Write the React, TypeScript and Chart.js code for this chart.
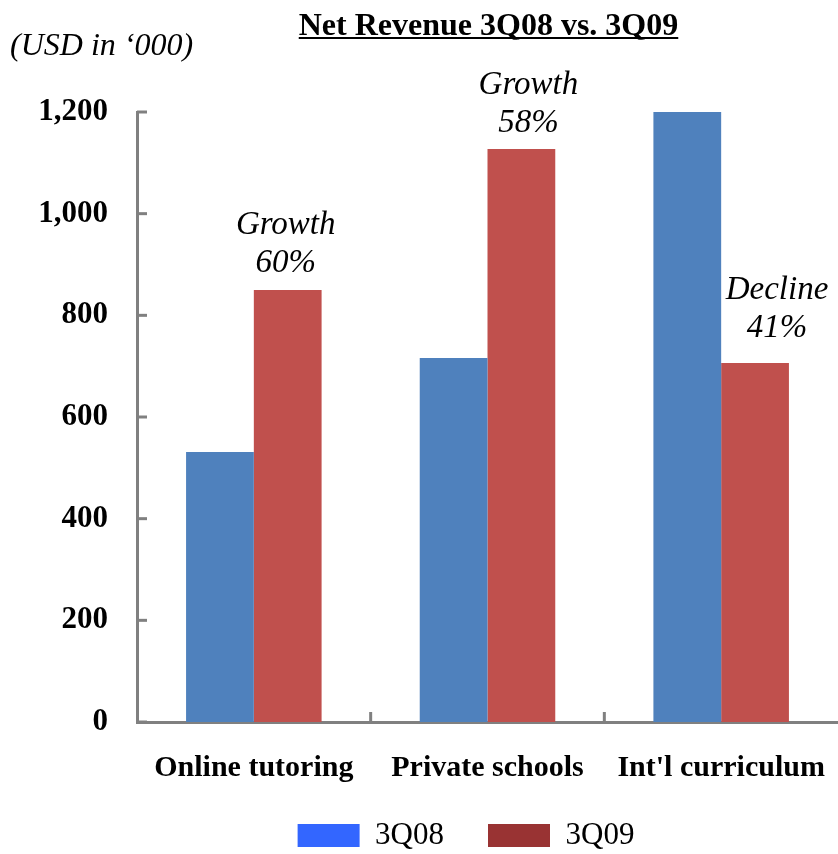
import React, { useEffect, useRef } from "react";
import { Chart, registerables } from "chart.js";

Chart.register(...registerables);

// ---- data ----
const categories = ["Online tutoring", "Private schools", "Int'l curriculum"];
const seriesLabels = ["3Q08", "3Q09"];
const values3Q08 = [531, 716, 1200];
const values3Q09 = [850, 1127, 706];
const yTickValues = [0, 200, 400, 600, 800, 1000, 1200];
const annotationWords = ["Growth", "Growth", "Decline"];
const annotationPercents = ["60%", "58%", "41%"];
const chartTitle = "Net Revenue 3Q08 vs. 3Q09";
const unitNote = "(USD in \u2018000)";

// ---- styles ----
const FONT = '"Liberation Serif", "Times New Roman", Times, serif';
const barColors = ["#4F81BD", "#C0504D"];
const legendColors = ["#3366FF", "#993333"];
const axisColor = "#808080";
const annotationOffsets = [
  { dx: -2, dy: -27 },
  { dx: 7, dy: -26 },
  { dx: 22, dy: -35 },
];
const annotationLineGap = 38;
const legendShift = { dx: 47, dy: -12 };

const decorations = {
  id: "decorations",
  afterLayout(chart: any) {
    const lg = chart.legend;
    if (lg) {
      lg.left += legendShift.dx;
      lg.right += legendShift.dx;
      lg.top += legendShift.dy;
      lg.bottom += legendShift.dy;
    }
  },
  afterDatasetsDraw(chart: any) {
    const ctx = chart.ctx;
    const meta = chart.getDatasetMeta(1);
    ctx.save();
    ctx.fillStyle = "#000";
    ctx.font = `italic 33px ${FONT}`;
    ctx.textAlign = "center";
    ctx.textBaseline = "middle";
    meta.data.forEach((el: any, i: number) => {
      const off = annotationOffsets[i];
      const x = el.x + off.dx;
      const y = el.y + off.dy;
      ctx.fillText(annotationWords[i], x, y - annotationLineGap);
      ctx.fillText(annotationPercents[i], x, y);
    });
    ctx.restore();
  },
  afterDraw(chart: any) {
    const ctx = chart.ctx;
    const area = chart.chartArea;
    const xs = chart.scales.x;
    const ys = chart.scales.y;
    ctx.save();
    // inward tick marks
    ctx.strokeStyle = axisColor;
    ctx.lineWidth = 3;
    yTickValues.forEach((v) => {
      const y = ys.getPixelForValue(v);
      ctx.beginPath();
      ctx.moveTo(area.left, y);
      ctx.lineTo(area.left + 10, y);
      ctx.stroke();
    });
    for (let i = 0; i < categories.length - 1; i++) {
      const x = (xs.getPixelForValue(i) + xs.getPixelForValue(i + 1)) / 2;
      ctx.beginPath();
      ctx.moveTo(x, area.bottom);
      ctx.lineTo(x, area.bottom - 10);
      ctx.stroke();
    }
    // title
    ctx.fillStyle = "#000";
    ctx.font = `bold 32px ${FONT}`;
    ctx.textAlign = "center";
    ctx.textBaseline = "alphabetic";
    const cx = (area.left + area.right) / 2 + 1;
    ctx.fillText(chartTitle, cx, 35);
    const w = ctx.measureText(chartTitle).width;
    ctx.fillRect(cx - w / 2, 37, w, 2);
    // unit note
    ctx.font = `italic 32px ${FONT}`;
    ctx.textAlign = "left";
    ctx.textBaseline = "middle";
    ctx.fillText(unitNote, 10, 47);
    ctx.restore();
  },
};

export default function App() {
  const ref = useRef<HTMLCanvasElement>(null);
  useEffect(() => {
    if (!ref.current) return;
    const chart = new Chart(ref.current, {
      type: "bar",
      data: {
        labels: categories,
        datasets: [
          {
            label: seriesLabels[0],
            data: values3Q08,
            backgroundColor: barColors[0],
            borderWidth: 0,
            barPercentage: 1,
            categoryPercentage: 0.58,
          },
          {
            label: seriesLabels[1],
            data: values3Q09,
            backgroundColor: barColors[1],
            borderWidth: 0,
            barPercentage: 1,
            categoryPercentage: 0.58,
          },
        ],
      },
      options: {
        responsive: false,
        animation: false,
        layout: { padding: { top: 112, left: 0, right: 0, bottom: -19 } },
        plugins: {
          title: { display: false },
          tooltip: { enabled: false },
          legend: {
            position: "bottom",
            align: "center",
            fullSize: true,
            labels: {
              boxWidth: 62,
              boxHeight: 23,
              padding: 44,
              color: "#000",
              font: { family: FONT, size: 31 },
              generateLabels: () =>
                seriesLabels.map((t, i) => ({
                  text: t,
                  fillStyle: legendColors[i],
                  strokeStyle: legendColors[i],
                  lineWidth: 0,
                  hidden: false,
                  datasetIndex: i,
                })),
            },
          },
        },
        scales: {
          x: {
            offset: true,
            grid: { display: false, drawTicks: true, tickLength: 28 },
            border: { color: axisColor, width: 3 },
            ticks: {
              color: "#000",
              font: { family: FONT, size: 30, weight: "bold" },
              padding: 0,
              maxRotation: 0,
              autoSkip: false,
            },
            afterFit: (s: any) => {
              s.height = 66;
            },
          },
          y: {
            min: 0,
            max: 1200,
            grid: { display: false, drawTicks: true, tickLength: 29 },
            border: { color: axisColor, width: 3 },
            afterBuildTicks: (s: any) => {
              s.ticks = yTickValues.map((v) => ({ value: v }));
            },
            ticks: {
              color: "#000",
              font: { family: FONT, size: 31, weight: "bold" },
              padding: 0,
              callback: (v: any) => Number(v).toLocaleString("en-US"),
            },
            afterFit: (s: any) => {
              s.width = 137;
            },
          },
        },
      },
      plugins: [decorations],
    } as any);
    return () => chart.destroy();
  }, []);
  return (
    <canvas
      ref={ref}
      width={838}
      height={854}
      style={{ position: "absolute", left: 0, top: 0, display: "block" }}
    />
  );
}
